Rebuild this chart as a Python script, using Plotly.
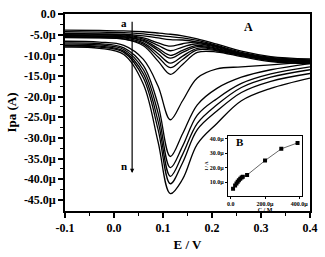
import plotly.graph_objects as go

# Potential grid (V) shared by all voltammograms
E = [-0.1, -0.03, 0.02, 0.06, 0.09, 0.115, 0.14, 0.17, 0.21, 0.26, 0.32, 0.4]

# Peak currents (µA), curves a..n
curve_a = [-3.9, -4.0, -4.1, -4.3, -4.6, -4.9, -5.3, -6.0, -7.3, -9.0, -10.3, -10.9]
curve_b = [-4.3, -4.4, -4.5, -4.8, -5.2, -5.5, -5.8, -6.4, -7.6, -9.3, -10.5, -11.1]
curve_c = [-4.7, -4.8, -4.9, -5.3, -5.8, -6.2, -6.3, -6.8, -7.9, -9.5, -10.7, -11.3]
curve_d = [-4.8, -4.9, -5.1, -5.8, -7.0, -7.8, -7.2, -6.8, -7.8, -9.6, -10.8, -11.3]
curve_e = [-5.0, -5.1, -5.3, -6.1, -7.6, -8.9, -8.0, -7.2, -8.1, -9.7, -10.9, -11.4]
curve_f = [-5.2, -5.3, -5.5, -6.4, -8.3, -10.0, -8.8, -7.6, -8.3, -9.8, -11.0, -11.5]
curve_g = [-5.3, -5.4, -5.6, -6.6, -8.8, -10.7, -9.3, -7.9, -8.5, -9.9, -11.1, -11.6]
curve_h = [-5.5, -5.6, -5.8, -7.0, -9.6, -11.9, -10.2, -8.3, -8.7, -10.0, -11.2, -11.7]
curve_i = [-5.6, -5.7, -6.0, -7.3, -10.4, -13.0, -11.0, -8.7, -8.9, -10.1, -11.3, -11.8]
curve_j = [-5.7, -5.8, -6.1, -7.7, -11.4, -14.6, -12.2, -9.3, -9.2, -10.3, -11.5, -12.0]
curve_k = [-6.6, -6.8, -7.6, -11.0, -17.5, -25.6, -21.0, -15.5, -13.3, -12.8, -12.3, -11.6]
curve_l = [-7.0, -7.2, -8.2, -12.5, -22.0, -34.5, -29.0, -22.0, -18.0, -15.3, -13.5, -12.0]
curve_m = [-7.3, -7.5, -8.6, -13.5, -24.0, -37.2, -32.0, -24.5, -20.5, -16.8, -14.5, -12.8]
curve_n1 = [-7.6, -7.8, -9.0, -14.5, -26.0, -39.3, -34.0, -26.5, -22.0, -17.8, -15.3, -13.5]
curve_n2 = [-7.8, -8.0, -9.3, -15.5, -28.0, -41.1, -36.0, -28.0, -23.5, -19.0, -16.3, -14.4]
curve_n = [-8.0, -8.3, -9.8, -17.0, -31.0, -43.5, -40.0, -31.5, -26.5, -21.0, -18.0, -15.5]

curves = [curve_a, curve_b, curve_c, curve_d, curve_e, curve_f, curve_g, curve_h,
          curve_i, curve_j, curve_k, curve_l, curve_m, curve_n1, curve_n2, curve_n]

# Inset B: calibration (concentration M, current A), in micro units
conc_u = [13, 25, 33, 40, 47, 55, 63, 70, 95, 200, 295, 390]
curr_u = [5.6, 7.7, 9.2, 10.3, 11.4, 12.5, 13.3, 13.8, 15.0, 25.0, 33.1, 37.2]

y_tickvals_u = [0, -5, -10, -15, -20, -25, -30, -35, -40, -45]
y_ticktext = ["0.0", "-5.0µ", "-10.0µ", "-15.0µ", "-20.0µ", "-25.0µ", "-30.0µ", "-35.0µ", "-40.0µ", "-45.0µ"]
x_tickvals = [-0.1, 0.0, 0.1, 0.2, 0.3, 0.4]
x_ticktext = ["-0.1", "0.0", "0.1", "0.2", "0.3", "0.4"]
in_x_tickvals_u = [0, 200, 400]
in_x_ticktext = ["0.0", "200.0µ", "400.0µ"]
in_y_tickvals_u = [10, 20, 30, 40]
in_y_ticktext = ["10.0µ", "20.0µ", "30.0µ", "40.0µ"]

u = 1e-6
FONT = "Liberation Serif"

fig = go.Figure()
for c in curves:
    fig.add_trace(go.Scatter(x=E, y=[v * u for v in c], mode="lines",
                             line=dict(color="black", width=1.3, shape="spline", smoothing=1.0),
                             hoverinfo="skip", showlegend=False))

fig.add_trace(go.Scatter(x=[c * u for c in conc_u], y=[v * u for v in curr_u],
                         mode="lines+markers", xaxis="x2", yaxis="y2",
                         line=dict(color="black", width=0.6),
                         marker=dict(symbol="square", size=4, color="black"),
                         showlegend=False))

tickfont = dict(family=FONT, size=12, color="black", weight="bold")
fig.update_layout(
    width=325, height=257,
    margin=dict(l=65, r=9, t=7, b=40),
    paper_bgcolor="white", plot_bgcolor="white",
    showlegend=False,
    xaxis=dict(range=[-0.1, 0.4], tickmode="array", tickvals=x_tickvals, ticktext=x_ticktext,
               showgrid=False, zeroline=False, showline=True, linecolor="black", linewidth=1.6,
               mirror=True, ticks="outside", ticklen=5, tickwidth=1.5, tickcolor="black",
               tickfont=tickfont,
               minor=dict(tickmode="array", tickvals=[-0.05, 0.05, 0.15, 0.25, 0.35],
                          ticks="outside", ticklen=3, tickwidth=1.2, tickcolor="black", showgrid=False),
               title=dict(text="E / V", font=dict(family=FONT, size=13, color="black", weight="bold"),
                          standoff=6)),
    yaxis=dict(range=[-47.7e-6, 0.0], tickmode="array", tickvals=[v * u for v in y_tickvals_u],
               ticktext=y_ticktext,
               showgrid=False, zeroline=False, showline=True, linecolor="black", linewidth=1.6,
               mirror=True, ticks="outside", ticklen=5, tickwidth=1.5, tickcolor="black",
               tickfont=tickfont,
               minor=dict(tickmode="array", tickvals=[-2.5e-6 - 5e-6 * k for k in range(9)],
                          ticks="outside", ticklen=3, tickwidth=1.2, tickcolor="black", showgrid=False),
               title=dict(text="Ipa (A)", font=dict(family=FONT, size=13, color="black", weight="bold"),
                          standoff=4)),
    xaxis2=dict(domain=[0.665, 0.968], anchor="y2", range=[-17e-6, 417e-6],
                tickmode="array", tickvals=[v * u for v in in_x_tickvals_u], ticktext=in_x_ticktext,
                showgrid=False, zeroline=False, showline=True, linecolor="black", linewidth=1,
                mirror=True, ticks="outside", ticklen=2, tickwidth=0.8, tickcolor="black",
                tickfont=dict(family=FONT, size=6, color="black", weight="bold"),
                title=dict(text="C / M", font=dict(family=FONT, size=6, color="black", weight="bold"),
                           standoff=0)),
    yaxis2=dict(domain=[0.076, 0.381], anchor="x2", range=[0.5e-6, 42e-6],
                tickmode="array", tickvals=[v * u for v in in_y_tickvals_u], ticktext=in_y_ticktext,
                showgrid=False, zeroline=False, showline=True, linecolor="black", linewidth=1,
                mirror=True, ticks="outside", ticklen=2, tickwidth=0.8, tickcolor="black",
                tickfont=dict(family=FONT, size=6, color="black", weight="bold"),
                title=dict(text="I / A", font=dict(family=FONT, size=5, color="black", weight="bold"),
                           standoff=1)),
)

fig.add_annotation(x=0.037, y=-38.5e-6, ax=0.037, ay=-1.5e-6, xref="x", yref="y",
                   axref="x", ayref="y", showarrow=True, arrowhead=2, arrowsize=0.7,
                   arrowwidth=1.2, arrowcolor="black", text="")
fig.add_annotation(x=0.021, y=-2.1e-6, xref="x", yref="y", text="a", showarrow=False,
                   font=dict(family=FONT, size=11, color="black", weight="bold"))
fig.add_annotation(x=0.021, y=-36.9e-6, xref="x", yref="y", text="n", showarrow=False,
                   font=dict(family=FONT, size=11, color="black", weight="bold"))
fig.add_annotation(x=0.275, y=-3.2e-6, xref="x", yref="y", text="A", showarrow=False,
                   font=dict(family=FONT, size=12, color="black", weight="bold"))
fig.add_annotation(x=20e-6, y=38e-6, xref="x2", yref="y2", text="B", showarrow=False,
                   xanchor="left", font=dict(family=FONT, size=11, color="black", weight="bold"))

fig.write_html("out.html")
